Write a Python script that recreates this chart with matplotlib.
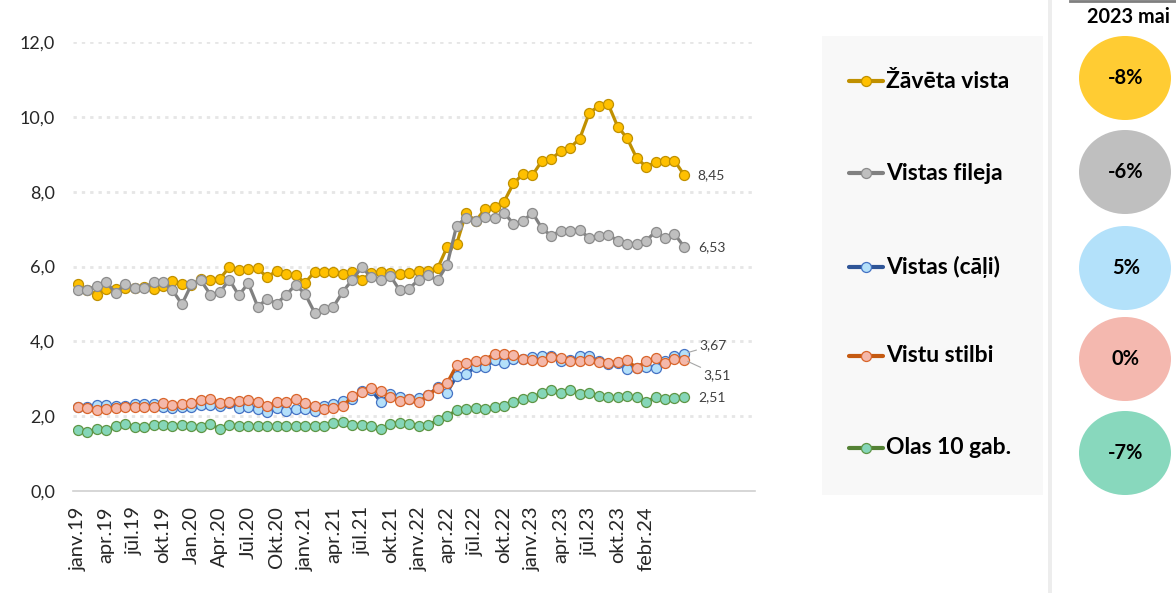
import matplotlib.pyplot as plt
import numpy as np
from matplotlib.patches import Ellipse, Rectangle
from matplotlib.lines import Line2D

plt.rcParams['font.family'] = ['Lato', 'DejaVu Sans']

# monthly prices, janv.19 .. mai.24
zaveta_vista = [5.52, 5.38, 5.25, 5.39, 5.39, 5.42, 5.42, 5.44, 5.39, 5.49,
                5.61, 5.52, 5.50, 5.67, 5.65, 5.67, 5.98, 5.90, 5.94, 5.95,
                5.71, 5.89, 5.80, 5.77, 5.56, 5.86, 5.85, 5.85, 5.80, 5.84,
                5.65, 5.82, 5.84, 5.83, 5.80, 5.82, 5.87, 5.87, 5.96, 6.52,
                6.60, 7.44, 7.21, 7.54, 7.60, 7.73, 8.22, 8.47, 8.44, 8.82,
                8.87, 9.09, 9.18, 9.42, 10.10, 10.29, 10.34, 9.74, 9.43, 8.90,
                8.67, 8.78, 8.83, 8.83, 8.45]
vistas_fileja = [5.36, 5.37, 5.49, 5.58, 5.29, 5.52, 5.43, 5.43, 5.58, 5.58,
                 5.37, 4.99, 5.52, 5.63, 5.25, 5.31, 5.65, 5.23, 5.55, 4.93,
                 5.13, 5.01, 5.24, 5.51, 5.27, 4.77, 4.87, 4.93, 5.33, 5.65,
                 5.98, 5.71, 5.63, 5.75, 5.36, 5.41, 5.65, 5.76, 5.63, 6.05,
                 7.09, 7.30, 7.21, 7.32, 7.30, 7.44, 7.14, 7.21, 7.44, 7.02,
                 6.82, 6.96, 6.96, 6.97, 6.76, 6.82, 6.85, 6.69, 6.60, 6.60,
                 6.69, 6.93, 6.76, 6.87, 6.53]
vistas_cali = [2.25, 2.25, 2.29, 2.29, 2.27, 2.28, 2.32, 2.32, 2.32, 2.25,
               2.22, 2.25, 2.25, 2.29, 2.31, 2.27, 2.34, 2.22, 2.25, 2.20,
               2.10, 2.22, 2.14, 2.19, 2.19, 2.14, 2.27, 2.32, 2.41, 2.45,
               2.67, 2.69, 2.38, 2.60, 2.51, 2.47, 2.49, 2.56, 2.78, 2.63,
               3.07, 3.12, 3.32, 3.32, 3.49, 3.43, 3.54, 3.54, 3.58, 3.60,
               3.61, 3.48, 3.49, 3.60, 3.60, 3.48, 3.39, 3.42, 3.27, 3.30,
               3.32, 3.30, 3.48, 3.60, 3.67]
vistu_stilbi = [2.25, 2.23, 2.16, 2.20, 2.23, 2.25, 2.25, 2.25, 2.25, 2.34,
                2.31, 2.32, 2.36, 2.43, 2.47, 2.36, 2.39, 2.41, 2.43, 2.39,
                2.27, 2.38, 2.39, 2.45, 2.34, 2.27, 2.20, 2.22, 2.27, 2.53,
                2.65, 2.74, 2.67, 2.51, 2.41, 2.47, 2.38, 2.56, 2.76, 2.89,
                3.36, 3.43, 3.47, 3.51, 3.67, 3.65, 3.64, 3.52, 3.49, 3.47,
                3.58, 3.56, 3.48, 3.47, 3.51, 3.45, 3.43, 3.44, 3.49, 3.29,
                3.47, 3.55, 3.42, 3.52, 3.51]
olas = [1.63, 1.57, 1.66, 1.63, 1.73, 1.79, 1.70, 1.72, 1.76, 1.76,
        1.73, 1.77, 1.75, 1.70, 1.79, 1.65, 1.76, 1.74, 1.74, 1.73,
        1.73, 1.73, 1.73, 1.75, 1.75, 1.75, 1.75, 1.82, 1.84, 1.77,
        1.76, 1.75, 1.65, 1.80, 1.82, 1.78, 1.74, 1.76, 1.90, 2.00,
        2.16, 2.20, 2.22, 2.18, 2.25, 2.26, 2.38, 2.47, 2.51, 2.62,
        2.69, 2.62, 2.69, 2.60, 2.63, 2.54, 2.51, 2.51, 2.54, 2.50,
        2.38, 2.51, 2.45, 2.49, 2.51]

tick_labels = ['janv.19', 'apr.19', 'jūl.19', 'okt.19', 'Jan.20', 'Apr.20',
               'Jūl.20', 'Okt.20', 'janv.21', 'apr.21', 'jūl.21', 'okt.21',
               'janv.22', 'apr.22', 'jūl.22', 'okt.22', 'janv.23', 'apr.23',
               'jūl.23', 'okt.23', 'febr.24']

names = ['Žāvēta vista', 'Vistas fileja', 'Vistas (cāļi)', 'Vistu stilbi', 'Olas 10 gab.']
changes = ['-8%', '-6%', '5%', '0%', '-7%']
period = '2023 mai'

# line color, marker face, marker edge
styles = [('#C09000', '#FFC000', '#C09000'),
          ('#808080', '#BFBFBF', '#8C8C8C'),
          ('#2F5597', '#B4E0FA', '#4472C4'),
          ('#C55A11', '#F4B8AA', '#D9652A'),
          ('#548235', '#85D6B8', '#5E9545')]
badge_colors = ['#FFCC33', '#BFBFBF', '#B3E1FA', '#F4B8AF', '#88D8BD']

series = [zaveta_vista, vistas_fileja, vistas_cali, vistu_stilbi, olas]
x = np.arange(len(zaveta_vista))

W, H = 1176, 593
fig = plt.figure(figsize=(W / 100, H / 100), dpi=100)
ax = fig.add_axes([73 / W, 1 - 491 / H, (755 - 73) / W, (491 - 42) / H])

for vals, (lc, fc, ec) in zip(series, styles):
    ax.plot(x, vals, color=lc, lw=2.3, marker='o', ms=7.2,
            markerfacecolor=fc, markeredgecolor=ec, markeredgewidth=0.9, zorder=3)

ax.set_xlim(-0.5, 71.5)
ax.set_ylim(0, 12)
ax.set_yticks(np.arange(0, 12.1, 2))
ax.set_yticklabels([f'{v:.1f}'.replace('.', ',') for v in np.arange(0, 12.1, 2)],
                   fontsize=13, color='#262626')
ax.set_xticks(np.arange(0, 3 * len(tick_labels), 3))
ax.set_xticklabels(tick_labels, rotation=90, fontsize=14.5, color='#262626')
ax.tick_params(length=0)
ax.tick_params(axis='x', pad=11)
ax.tick_params(axis='y', pad=13)
for g in np.arange(2, 12.1, 2):
    ax.axhline(g, color='#E6E6E6', lw=2, ls=(0, (1.2, 1.8)), zorder=1)
for s in ['top', 'right', 'left']:
    ax.spines[s].set_visible(False)
ax.spines['bottom'].set_color('#D0D0D0')
ax.spines['bottom'].set_linewidth(1.2)

# end-value labels
last = len(x) - 1
lab_kw = dict(fontsize=10, color='#404040', va='center', ha='left')
ax.annotate(f'{zaveta_vista[-1]:.2f}'.replace('.', ','), (last, zaveta_vista[-1]),
            xytext=(10, 0), textcoords='offset points', **lab_kw)
ax.annotate(f'{vistas_fileja[-1]:.2f}'.replace('.', ','), (last, vistas_fileja[-1]),
            xytext=(10, 0), textcoords='offset points', **lab_kw)
ax.annotate(f'{olas[-1]:.2f}'.replace('.', ','), (last, olas[-1]),
            xytext=(10, 0), textcoords='offset points', **lab_kw)
ax.annotate(f'{vistas_cali[-1]:.2f}'.replace('.', ','), (last, vistas_cali[-1]),
            xytext=(11, 6), textcoords='offset points',
            arrowprops=dict(arrowstyle='-', color='#A6A6A6', lw=0.8,
                            shrinkA=0, shrinkB=3), **lab_kw)
ax.annotate(f'{vistu_stilbi[-1]:.2f}'.replace('.', ','), (last, vistu_stilbi[-1]),
            xytext=(14, -11), textcoords='offset points',
            arrowprops=dict(arrowstyle='-', color='#A6A6A6', lw=0.8,
                            shrinkA=0, shrinkB=3), **lab_kw)

# right-hand panel drawn in pixel coordinates
ov = fig.add_axes([0, 0, 1, 1], zorder=5)
ov.set_xlim(0, W)
ov.set_ylim(H, 0)
ov.axis('off')

ov.add_patch(Rectangle((822, 36), 221, 459, facecolor='#F8F8F8', edgecolor='none'))
ov.add_patch(Rectangle((1048, 0), 4, H, facecolor='#EDEDED', edgecolor='none'))
ov.plot([1070, 1176], [1, 1], color='#7F7F7F', lw=2)
ov.text(1128, 17, period, fontsize=14.3, fontweight='bold', ha='center', va='center')

legend_y = [81, 173, 267, 356, 448]
badge_y = [78, 172, 268, 359, 453]
for name, ch, ly, by, (lc, fc, ec), bc in zip(names, changes, legend_y, badge_y,
                                              styles, badge_colors):
    ov.add_line(Line2D([849, 883], [ly, ly], color=lc, lw=3, solid_capstyle='round'))
    ov.plot([866], [ly], marker='o', ms=7.2, markerfacecolor=fc,
            markeredgecolor=ec, markeredgewidth=0.9)
    ov.text(886, ly, name, fontsize=16.5, fontweight='bold', ha='left', va='center')
    ov.add_patch(Ellipse((1125, by), 92, 84, facecolor=bc, edgecolor='none'))
    ov.text(1126, by, ch, fontsize=14.5, fontweight='bold', ha='center', va='center')

fig.savefig('out.png', dpi=100)
